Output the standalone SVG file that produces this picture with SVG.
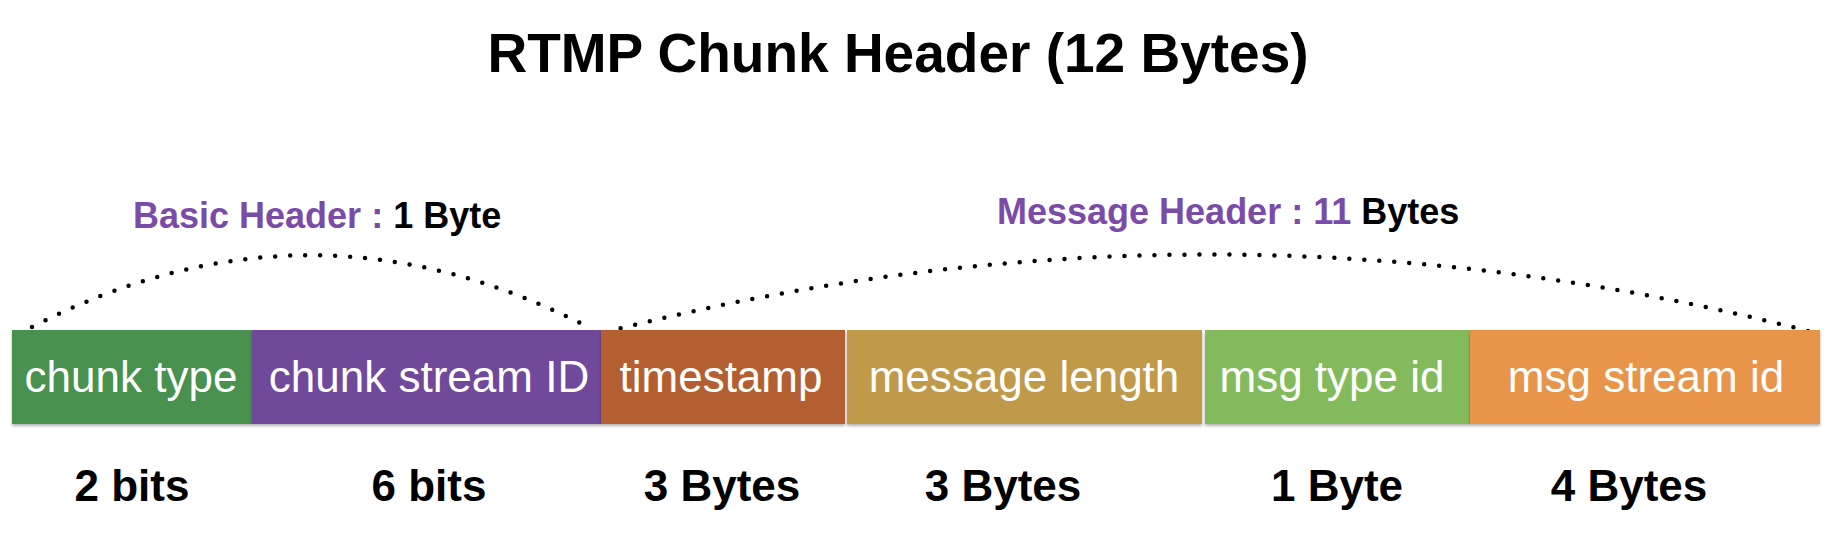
<svg xmlns="http://www.w3.org/2000/svg" width="1840" height="548" viewBox="0 0 1840 548">
<style>
.title{font-family:"Liberation Sans",Arial,sans-serif;font-weight:bold;font-size:55px;fill:#000}
.hdr{font-family:"Liberation Sans",Arial,sans-serif;font-weight:bold;font-size:36px;fill:#7a4ca8}
.blk{fill:#000}
.box{stroke:none}
.bt{font-family:"Liberation Sans",Arial,sans-serif;font-size:44px;fill:#fff;text-anchor:middle}
.sz{font-family:"Liberation Sans",Arial,sans-serif;font-weight:bold;font-size:44px;fill:#000;text-anchor:middle}
.dot{fill:none;stroke:#000;stroke-width:4.5;stroke-linecap:round;stroke-dasharray:0 15}
</style>
<defs>
<filter id="sh" x="-5%" y="-10%" width="110%" height="130%">
<feDropShadow dx="0" dy="2" stdDeviation="1.5" flood-color="#000" flood-opacity="0.3"/>
</filter>
</defs>
<rect width="1840" height="548" fill="#fff"/>
<text class="title" x="898" y="72" text-anchor="middle">RTMP Chunk Header (12 Bytes)</text>
<text class="hdr" x="133" y="228">Basic Header : <tspan class="blk">1 Byte</tspan></text>
<text class="hdr" x="997" y="224">Message Header : 11 <tspan class="blk">Bytes</tspan></text>
<g id="connectors">
<path class="dot" d="M32,327 Q311,183 590,328"/>
<path class="dot" d="M606,332 Q1213,176 1820,334"/>
</g>
<g id="chunk-type"><rect class="box" x="12" y="330" width="240" height="94" fill="#4a9150" filter="url(#sh)"/><text class="bt" x="131" y="392">chunk type</text></g>
<g id="chunk-stream-id"><rect class="box" x="252" y="330" width="349" height="94" fill="#70489a" filter="url(#sh)"/><text class="bt" x="429" y="392">chunk stream ID</text></g>
<g id="timestamp"><rect class="box" x="601" y="330" width="244" height="94" fill="#b45f31" filter="url(#sh)"/><text class="bt" x="721" y="392">timestamp</text></g>
<g id="message-length"><rect class="box" x="847" y="330" width="355" height="94" fill="#c09a48" filter="url(#sh)"/><text class="bt" x="1024" y="392">message length</text></g>
<g id="msg-type-id"><rect class="box" x="1205" y="330" width="265" height="94" fill="#83bb5c" filter="url(#sh)"/><text class="bt" x="1332" y="392">msg type id</text></g>
<g id="msg-stream-id"><rect class="box" x="1470" y="330" width="350" height="94" fill="#e8944a" filter="url(#sh)"/><text class="bt" x="1646" y="392">msg stream id</text></g>
<g id="sizes">
<text class="sz" x="132" y="501">2 bits</text>
<text class="sz" x="429" y="501">6 bits</text>
<text class="sz" x="722" y="501">3 Bytes</text>
<text class="sz" x="1003" y="501">3 Bytes</text>
<text class="sz" x="1337" y="501">1 Byte</text>
<text class="sz" x="1629" y="501">4 Bytes</text>
</g>
</svg>
